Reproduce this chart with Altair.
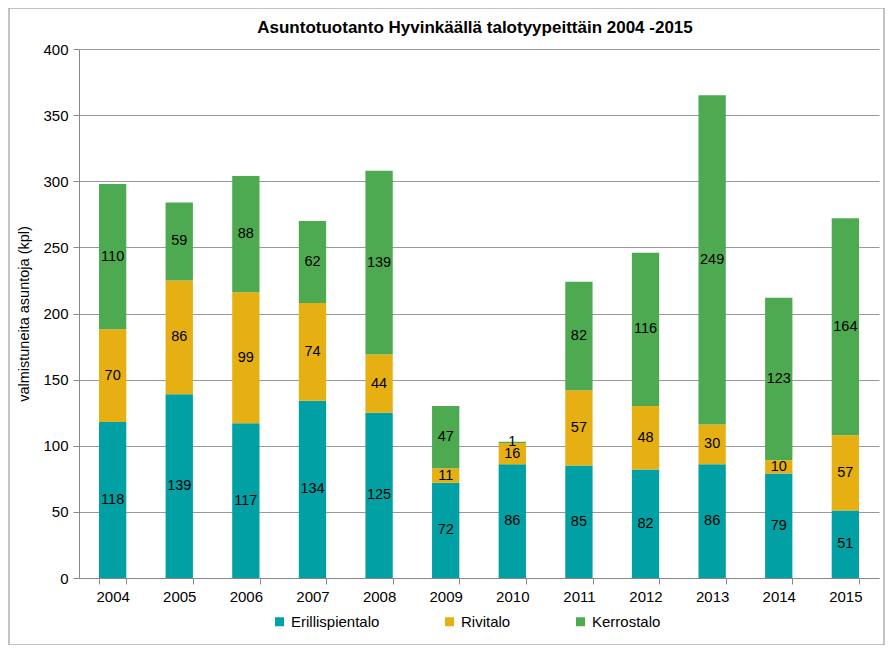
import altair as alt
import pandas as pd

years = ["2004", "2005", "2006", "2007", "2008", "2009", "2010", "2011", "2012", "2013", "2014", "2015"]
series = ["Erillispientalo", "Rivitalo", "Kerrostalo"]
erillis = [118, 139, 117, 134, 125, 72, 86, 85, 82, 86, 79, 51]
rivi = [70, 86, 99, 74, 44, 11, 16, 57, 48, 30, 10, 57]
kerros = [110, 59, 88, 62, 139, 47, 1, 82, 116, 249, 123, 164]
colors = ["#00A0A4", "#E6B012", "#4EAA50"]
title_text = "Asuntotuotanto Hyvinkäällä talotyypeittäin 2004 -2015"

rows = []
for i, y in enumerate(years):
    for k, (name, vals) in enumerate(zip(series, [erillis, rivi, kerros])):
        rows.append({"vuosi": y, "tyyppi": name, "arvo": vals[i], "jarj": k})
df = pd.DataFrame(rows)

FONT = "Liberation Sans"

base = alt.Chart(df).transform_stack(
    stack="arvo", as_=["y0", "y1"], groupby=["vuosi"], sort=[alt.SortField("jarj", order="ascending")]
).transform_calculate(ymid="(datum.y0 + datum.y1) / 2")

xenc = alt.X("vuosi:N", title=None, sort=years,
             scale=alt.Scale(paddingInner=0.59, paddingOuter=0.3),
             axis=alt.Axis(labelAngle=0, labelFontSize=15, labelColor="#000", tickBand="extent",
                           domainColor="#888", tickColor="#888", tickSize=6, labelPadding=5,
                           labelFont=FONT))

bars = base.mark_bar().encode(
    x=xenc,
    y=alt.Y("y0:Q", title="valmistuneita asuntoja (kpl)",
            scale=alt.Scale(domain=[0, 400]),
            axis=alt.Axis(values=list(range(0, 401, 50)), labelFontSize=15, labelColor="#000",
                          titleFontSize=14.5, titleFontWeight="normal", titleColor="#000",
                          gridColor="#999", domainColor="#888", tickColor="#888", tickSize=6,
                          labelPadding=5, titlePadding=11, labelFont=FONT, titleFont=FONT)),
    y2="y1:Q",
    color=alt.Color("tyyppi:N", sort=series,
                    scale=alt.Scale(domain=series, range=colors),
                    legend=alt.Legend(title=None, orient="none", direction="horizontal",
                                      legendX=193, legendY=565, padding=0,
                                      symbolType="square", symbolSize=81, symbolStrokeWidth=0,
                                      labelFontSize=15, labelColor="#000", labelFont=FONT,
                                      columnPadding=62, labelOffset=4)),
)

labels = base.mark_text(fontSize=14.5, color="#000", font=FONT).encode(
    x=alt.X("vuosi:N", sort=years),
    y=alt.Y("ymid:Q"),
    text="arvo:Q",
)

title = alt.Chart(pd.DataFrame({"t": [title_text]})).mark_text(
    fontSize=17, fontWeight="bold", font=FONT, color="#000", align="center", baseline="middle"
).encode(x=alt.value(396), y=alt.value(-21), text="t:N")

frame = alt.Chart(pd.DataFrame({"a": [0]})).mark_rect(fill=None, stroke="#888", strokeWidth=1).encode(
    x=alt.value(-70), x2=alt.value(805), y=alt.value(-41), y2=alt.value(596)
)

chart = alt.layer(bars, labels, title, frame).properties(
    width=800, height=529,
    autosize=alt.AutoSizeParams(type="none"),
    padding={"left": 71, "top": 41, "right": 6, "bottom": 67},
).configure_view(stroke=None)

chart.save("out.html", embed_options={"renderer": "svg", "actions": False})
